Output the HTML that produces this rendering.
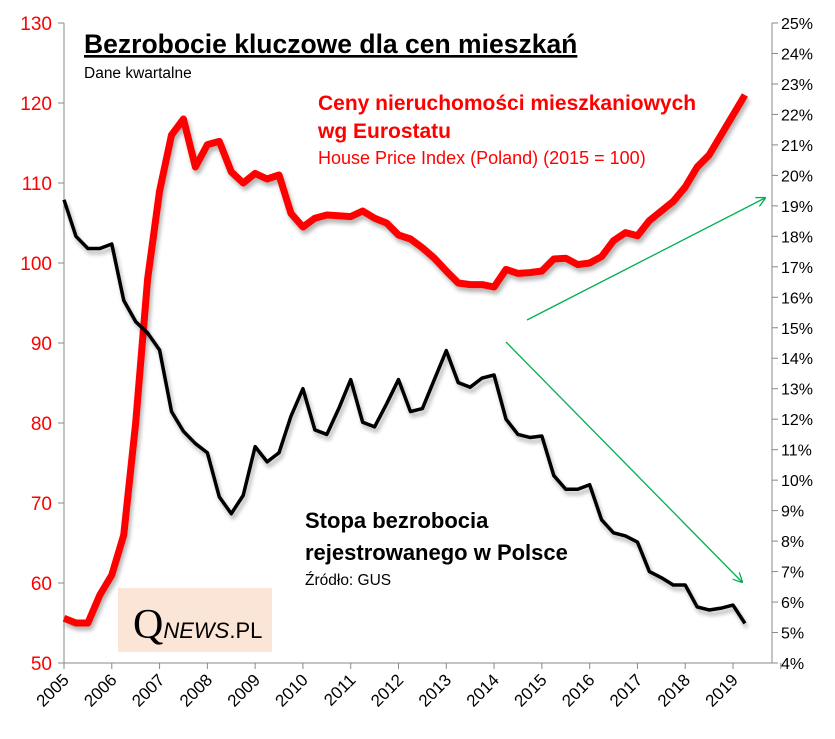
<!DOCTYPE html>
<html><head><meta charset="utf-8"><style>
body{margin:0;background:#fff;}
svg{display:block;font-family:"Liberation Sans","Noto Sans CJK SC",sans-serif;}
</style></head><body>
<svg id="chart" width="835" height="739">
<defs>
<filter id="sh" x="-5%" y="-5%" width="110%" height="110%"><feGaussianBlur in="SourceAlpha" stdDeviation="2"/><feOffset dx="2" dy="4"/><feComponentTransfer><feFuncA type="linear" slope="0.3"/></feComponentTransfer><feMerge><feMergeNode/><feMergeNode in="SourceGraphic"/></feMerge></filter>
<marker id="ah" markerWidth="10" markerHeight="10" refX="9" refY="5" orient="auto" markerUnits="userSpaceOnUse"><path d="M0,0 L10,5 L0,10" fill="none" stroke="#00b050" stroke-width="1.3"/></marker>
</defs>
<g id="axes"></g>
<g id="marks"></g>
<rect x="118" y="588" width="154" height="64" fill="#fbe5d6"/>
<text x="133" y="638" font-family="Liberation Serif,serif" font-size="42" fill="#000">Q<tspan font-family="Liberation Sans,sans-serif" font-size="22" font-style="italic">NEWS</tspan><tspan font-family="Liberation Sans,sans-serif" font-size="22">.PL</tspan></text>
<text x="84" y="53" font-size="26.5" font-weight="bold" text-decoration="underline">Bezrobocie kluczowe dla cen mieszkań</text>
<text x="84" y="78" font-size="15.5">Dane kwartalne</text>
<text x="318" y="110" font-size="21" font-weight="bold" fill="#ff0000">Ceny nieruchomości  mieszkaniowych</text>
<text x="318" y="138" font-size="21" font-weight="bold" fill="#ff0000">wg Eurostatu</text>
<text x="318" y="164" font-size="18" fill="#ff0000">House Price Index (Poland) (2015 = 100)</text>
<text x="305" y="528" font-size="22" font-weight="bold">Stopa bezrobocia</text>
<text x="305" y="560" font-size="22" font-weight="bold">rejestrowanego w Polsce</text>
<text x="305" y="585" font-size="15.5">Źródło: GUS</text>
<line x1="527" y1="320" x2="765" y2="198" stroke="#00b050" stroke-width="1.3" marker-end="url(#ah)"/>
<line x1="506" y1="342" x2="742" y2="582" stroke="#00b050" stroke-width="1.3" marker-end="url(#ah)"/>
</svg>
<script>
const years = ["2005","2006","2007","2008","2009","2010","2011","2012","2013","2014","2015","2016","2017","2018","2019"];
const leftTicks = [50,60,70,80,90,100,110,120,130];
const rightTicks = [4,5,6,7,8,9,10,11,12,13,14,15,16,17,18,19,20,21,22,23,24,25];
const housePrice = [55.6,55,55,58.5,61,66,80,98,109,116,118,112,114.8,115.2,111.4,110,111.2,110.5,111,106.2,104.5,105.6,106,105.9,105.8,106.5,105.6,105,103.5,103,101.9,100.6,99,97.5,97.3,97.3,97,99.2,98.7,98.8,99,100.5,100.6,99.8,100,100.8,102.8,103.8,103.4,105.3,106.5,107.7,109.5,112,113.5,116,118.5,121];
const unemployment = [19.2,18.0,17.6,17.6,17.75,15.9,15.2,14.83,14.27,12.25,11.6,11.2,10.9,9.45,8.9,9.5,11.1,10.6,10.9,12.1,13.0,11.65,11.5,12.35,13.3,11.9,11.75,12.5,13.3,12.25,12.35,13.3,14.25,13.2,13.05,13.35,13.45,12.0,11.5,11.4,11.45,10.15,9.7,9.7,9.85,8.7,8.27,8.17,7.97,7.0,6.8,6.56,6.56,5.84,5.74,5.8,5.9,5.3];
const NS="http://www.w3.org/2000/svg";
const X0=64,X1=772,YT=23,YB=663,STEP=(733-64)/56;
const xq=i=>X0+i*STEP;
const yL=v=>YB-(v-50)/80*(YB-YT);
const yR=v=>YB-(v-4)/21*(YB-YT);
function el(t,a,p){const e=document.createElementNS(NS,t);for(const k in a)e.setAttribute(k,a[k]);p.appendChild(e);return e;}
const ax=document.getElementById('axes'),mk=document.getElementById('marks');
let e=el('line',{x1:X0,y1:YT,x2:X0,y2:YB,stroke:'#888'},ax);


e=el('line',{x1:X1,y1:YT,x2:X1,y2:YB,stroke:'#888'},ax);


e=el('line',{x1:X0,y1:YB,x2:X1,y2:YB,stroke:'#888'},ax);


leftTicks.forEach(v=>{const y=yL(v);el('line',{x1:X0-6,y1:y,x2:X0,y2:y,stroke:'#888'},ax);
const t=el('text',{x:52,y:y+7,'text-anchor':'end','font-size':19,fill:'#ff0000'},ax);t.textContent=v;

});
rightTicks.forEach(v=>{const y=yR(v);el('line',{x1:X1,y1:y,x2:X1+6,y2:y,stroke:'#888'},ax);
const t=el('text',{x:781,y:y+6,'font-size':16,fill:'#000'},ax);t.textContent=v+'%';

});
years.forEach((yr,i)=>{const x=xq(i*4);el('line',{x1:x,y1:YB,x2:x,y2:YB+6,stroke:'#888'},ax);
const t=el('text',{x:x+6,y:YB+18,'text-anchor':'end','font-size':17,transform:`rotate(-45 ${x+6} ${YB+18})`},ax);t.textContent=yr;

});
el('line',{x1:xq(60),y1:YB,x2:xq(60),y2:YB+6,stroke:'#888'},ax);
const hp=el('polyline',{points:housePrice.map((v,i)=>xq(i)+','+yL(v)).join(' '),fill:'none',stroke:'#ff0000','stroke-width':7,'stroke-linejoin':'round',filter:'url(#sh)'},mk);


const un=el('polyline',{points:unemployment.map((v,i)=>xq(i)+','+yR(v)).join(' '),fill:'none',stroke:'#000','stroke-width':3.5,'stroke-linejoin':'round',filter:'url(#sh)'},mk);


</script>
</body></html>
